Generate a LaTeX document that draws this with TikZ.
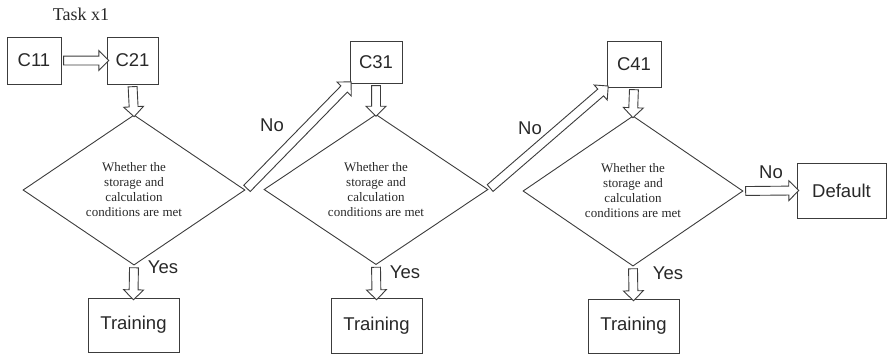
\documentclass[tikz,border=0pt]{standalone}
\usepackage{fontspec}
\setmainfont{Liberation Serif}
\setsansfont{Liberation Sans}
\usepackage{tikz}
\usetikzlibrary{shapes.geometric, shapes.arrows, calc}
\definecolor{FlowLine}{RGB}{60,60,60}
\definecolor{FlowText}{RGB}{40,40,40}

% hollow block arrow between two named points
\newcommand{\flowarrow}[2]{%
  \path let \p1=($(#2)-(#1)$), \n1={veclen(\x1,\y1)}, \n2={atan2(\y1,\x1)} in
    node[flow, minimum height=\n1, rotate=\n2] at ($(#1)!0.5!(#2)$) {};}

\begin{document}
\begin{tikzpicture}[x=1pt, y=-1pt,
          box/.style={rectangle, draw=FlowLine, line width=0.9pt, inner sep=0pt,
                      text=FlowText, font=\sffamily\fontsize{18.5}{20}\selectfont},
          cond/.style={diamond, draw=FlowLine, line width=0.9pt, inner sep=0pt,
                       align=center, text=FlowText,
                       font=\fontsize{13}{15}\selectfont},
          flow/.style={single arrow, draw=FlowLine, fill=white, line width=0.9pt,
                       inner xsep=0pt, inner ysep=4pt, minimum width=1pt,
                       single arrow head extend=5.5pt, single arrow head indent=0pt},
          lab/.style={text=FlowText, font=\sffamily\fontsize{18.5}{20}\selectfont}
        ]
        \useasboundingbox (0,0) rectangle (887,354);

        \node[font=\fontsize{18}{20}\selectfont, text=FlowText] (task) at (81,14) {Task x1};

        % Column 1
        \node[box, minimum width=54pt, minimum height=47pt] (c11) at (34,60.5) {C11};
        \node[box, minimum width=51pt, minimum height=47pt] (c21) at (132.5,60.5) {C21};
        \node[cond, minimum width=222pt, minimum height=110pt] (d1) at (134,190)
             {Whether the\\storage and\\calculation\\conditions are met};
        \node[box, minimum width=91pt, minimum height=54pt] (t1) at (133.5,325) {Training};

        % Column 2
        \node[box, minimum width=52pt, minimum height=42pt] (c31) at (376,62) {C31};
        \node[cond, minimum width=224pt, minimum height=109pt] (d2) at (376,189.5)
             {Whether the\\storage and\\calculation\\conditions are met};
        \node[box, minimum width=91pt, minimum height=55pt] (t2) at (376.5,325.5) {Training};

        % Column 3
        \node[box, minimum width=54pt, minimum height=46pt] (c41) at (634,64) {C41};
        \node[cond, minimum width=220pt, minimum height=110pt] (d3) at (633,191)
             {Whether the\\storage and\\calculation\\conditions are met};
        \node[box, minimum width=91pt, minimum height=54pt] (t3) at (633.5,326) {Training};

        % Default
        \node[box, minimum width=89pt, minimum height=55pt] (def) at (841.5,190.5) {Default};

        % Arrows
        \flowarrow{c11.east}{c21.west}
        \flowarrow{c21.south}{d1.north}
        \flowarrow{d1.south}{t1.north}
        \flowarrow{d1.east}{c31.south west}
        \flowarrow{c31.south}{d2.north}
        \flowarrow{d2.south}{t2.north}
        \flowarrow{d2.east}{c41.south west}
        \flowarrow{c41.south}{d3.north}
        \flowarrow{d3.south}{t3.north}
        \flowarrow{d3.east}{def.west}

        % Labels
        \node[lab] (yes1) at (163,267) {Yes};
        \node[lab] (yes2) at (405,272) {Yes};
        \node[lab] (yes3) at (668,273) {Yes};
        \node[lab] (no1) at (272,125) {No};
        \node[lab] (no2) at (530,128) {No};
        \node[lab] (no3) at (771,172) {No};
      \end{tikzpicture}
\end{document}
